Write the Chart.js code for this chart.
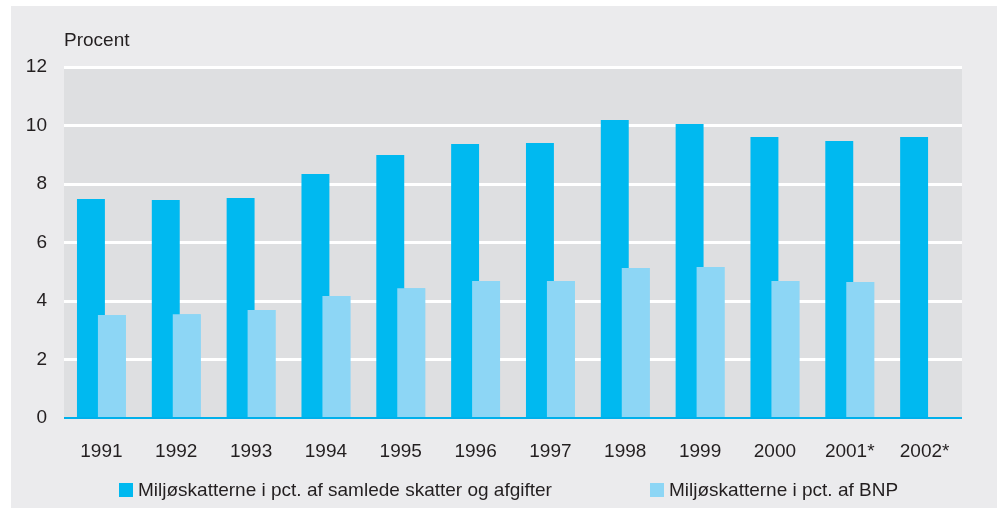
<!DOCTYPE html>
<html>
<head>
<meta charset="utf-8">
<script src="https://cdn.jsdelivr.net/npm/chart.js@4/dist/chart.umd.min.js"></script>
<style>
    body { margin: 0; background: #ffffff; }
    #panel { position: absolute; left: 11px; top: 6px; width: 986px; height: 502px; background: #ebebed; }
    #wrap { position: absolute; left: 0; top: 0; width: 997px; height: 508px; }
    .legend { position: absolute; top: 479px; font-family: 'Liberation Sans', sans-serif; font-size: 19px; color: #231f20; line-height: 22px; white-space: nowrap; }
    .legend span.box { display: inline-block; width: 14px; height: 14px; margin-right: 5px; vertical-align: -1px; }
</style>
</head>
<body>
<div id="panel"></div>
<div id="wrap"><canvas id="grafico" width="997" height="508"></canvas></div>
<div class="legend" style="left:119px"><span class="box" style="background:#00b9f0"></span>Miljøskatterne i pct. af samlede skatter og afgifter</div>
<div class="legend" style="left:650px"><span class="box" style="background:#8dd6f5"></span>Miljøskatterne i pct. af BNP</div>
<script>
// Datos del gráfico
const aar = ['1991', '1992', '1993', '1994', '1995', '1996', '1997', '1998', '1999', '2000', '2001*', '2002*'];
const andelSkatter = [7.49, 7.45, 7.52, 8.34, 8.99, 9.37, 9.40, 10.19, 10.05, 9.61, 9.47, 9.61];
const andelBNP = [3.52, 3.55, 3.69, 4.17, 4.44, 4.68, 4.68, 5.13, 5.16, 4.68, 4.65, null];
const yTicks = [0, 2, 4, 6, 8, 10, 12];

const fuente = "'Liberation Sans', sans-serif";

// Fondo gris del área del gráfico y texto "Procent"
const fondoPlugin = {
    id: 'fondo',
    beforeDraw(chart) {
        const { ctx, chartArea } = chart;
        ctx.save();
        ctx.fillStyle = '#dedfe1';
        ctx.fillRect(chartArea.left, chartArea.top, chartArea.right - chartArea.left, chartArea.bottom - chartArea.top);
        ctx.restore();
    },
    afterDraw(chart) {
        const { ctx, chartArea } = chart;
        ctx.save();
        ctx.fillStyle = '#231f20';
        ctx.font = '19px ' + fuente;
        ctx.textBaseline = 'middle';
        ctx.fillText('Procent', chartArea.left, chartArea.top - 26);
        ctx.restore();
    },
    // las barras claras van encima de las oscuras
    afterDatasetsDraw(chart) {
        const meta = chart.getDatasetMeta(1);
        meta.data.forEach(el => el.draw(chart.ctx));
    }
};

const ctx = document.getElementById('grafico').getContext('2d');
new Chart(ctx, {
    type: 'bar',
    data: {
        labels: aar,
        datasets: [
            {
                label: 'Miljøskatterne i pct. af samlede skatter og afgifter',
                data: andelSkatter,
                backgroundColor: '#00b9f0',
                categoryPercentage: 0.56,
                barPercentage: 1.333
            },
            {
                label: 'Miljøskatterne i pct. af BNP',
                data: andelBNP,
                backgroundColor: '#8dd6f5',
                categoryPercentage: 0.56,
                barPercentage: 1.333
            }
        ]
    },
    options: {
        responsive: false,
        animation: false,
        layout: { padding: { left: 0, right: 35, top: 67, bottom: 0 } },
        plugins: {
            legend: { display: false },
            tooltip: { enabled: false }
        },
        scales: {
            x: {
                grid: { display: false, drawTicks: false },
                border: { display: false },
                ticks: {
                    color: '#231f20',
                    font: { family: fuente, size: 19 },
                    padding: 22,
                    maxRotation: 0
                },
                afterFit: s => { s.height = 90; }
            },
            y: {
                min: 0,
                max: 12,
                afterBuildTicks: s => { s.ticks = yTicks.map(v => ({ value: v })); },
                border: { display: false },
                grid: {
                    drawTicks: false,
                    color: c => c.tick && c.tick.value === 0 ? '#00b0eb' : '#ffffff',
                    lineWidth: c => c.tick && c.tick.value === 0 ? 2 : 3
                },
                ticks: {
                    color: '#231f20',
                    font: { family: fuente, size: 19 },
                    padding: 17
                },
                afterFit: s => { s.width = 64; }
            }
        }
    },
    plugins: [fondoPlugin]
});
</script>
</body>
</html>
